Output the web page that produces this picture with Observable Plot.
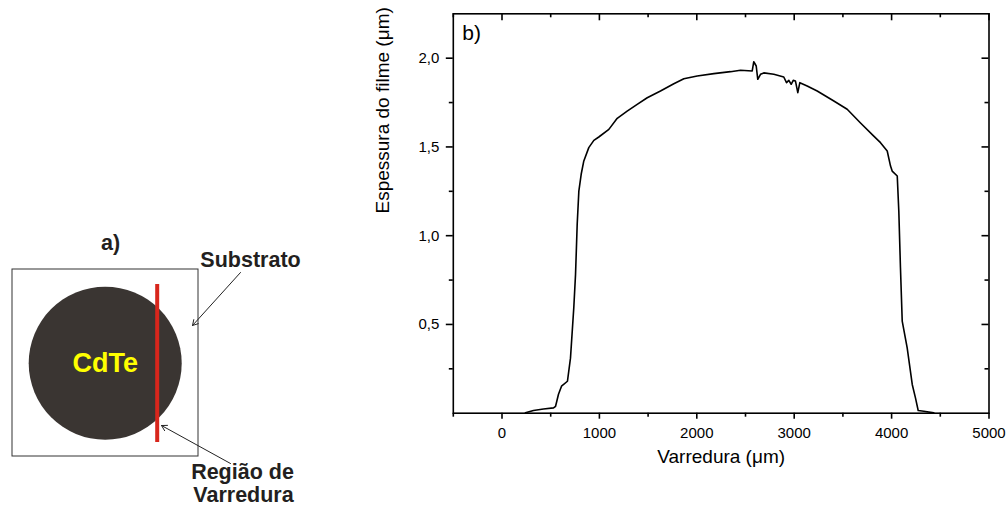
<!DOCTYPE html>
<html><head><meta charset="utf-8">
<script src="https://cdn.jsdelivr.net/npm/d3@7"></script>
<script src="https://cdn.jsdelivr.net/npm/@observablehq/plot@0.6"></script>
<style>
body{margin:0;background:#fff;}
#wrap{position:relative;width:1007px;height:507px;overflow:hidden;background:#fff;}
#wrap svg{position:absolute;top:0;}
</style></head><body><div id="wrap"></div>
<script>
// ---------- Panel b: thickness profile ----------
const scanX = [241, 323, 426, 529, 550, 580, 611, 672, 703, 737, 755, 772, 789, 813, 840, 891, 943, 994,
  1097, 1183, 1285, 1388, 1491, 1627, 1764, 1867, 2004, 2175, 2346, 2449, 2569, 2585, 2610, 2626, 2654, 2688,
  2791, 2893, 2921, 2945, 2969, 2990, 3013, 3037, 3058, 3133, 3236, 3407, 3544, 3681, 3817, 3886, 3955, 3989,
  4006, 4058, 4074, 4091, 4109, 4160, 4212, 4245, 4273, 4331, 4433];
const thickness = [0.002, 0.015, 0.024, 0.030, 0.039, 0.107, 0.152, 0.180, 0.310, 0.594, 0.782, 1.064, 1.251, 1.346, 1.421, 1.496, 1.537, 1.556,
  1.599, 1.661, 1.702, 1.740, 1.777, 1.815, 1.856, 1.884, 1.900, 1.913, 1.924, 1.932, 1.928, 1.980, 1.956, 1.881, 1.909, 1.917,
  1.909, 1.894, 1.862, 1.875, 1.853, 1.875, 1.871, 1.806, 1.862, 1.843, 1.815, 1.759, 1.712, 1.635, 1.561, 1.524, 1.477, 1.392,
  1.364, 1.336, 1.139, 0.819, 0.519, 0.368, 0.162, 0.086, 0.015, 0.011, 0.002];
const xMajorTicks = [0, 1000, 2000, 3000, 4000, 5000];
const xMinorTicks = [-500, 500, 1500, 2500, 3500, 4500];
const yMajorTicks = [0.5, 1.0, 1.5, 2.0];
const yMinorTicks = [0.25, 0.75, 1.25, 1.75];
const xTitle = "Varredura (\u03bcm)";
const yTitle = "Espessura do filme (\u03bcm)";
const panelB = "b)";

// ---------- Panel a: schematic ----------
const substrate = [{x1: 12, x2: 198, y1: 269, y2: 456}];
const film = [{x: 104.7, y: 362.7, label: "CdTe"}];
const scanLine = [{x: 156.7, y1: 284, y2: 442}];
const captions = [
  {x: 110, y: 243, text: "a)"},
  {x: 250, y: 260, text: "Substrato"},
  {x: 242, y: 472, text: "Regi\u00e3o de"},
  {x: 243, y: 495, text: "Varredura"}
];
const pointers = [
  {x1: 240, y1: 272, x2: 192, y2: 325},
  {x1: 230, y1: 463, x2: 161, y2: 425}
];

const font = "'Liberation Sans', Arial, Helvetica, sans-serif";
const comma = d => d.toFixed(1).replace(".", ",");

const profile = scanX.map((x, i) => ({x, y: thickness[i]}));

const chartA = Plot.plot({
  width: 340, height: 507, margin: 0,
  x: {domain: [0, 340], range: [0, 340], axis: null},
  y: {domain: [0, 507], range: [0, 507], axis: null},
  style: {fontFamily: font, background: "transparent", overflow: "visible"},
  marks: [
    Plot.rect(substrate, {x1: "x1", x2: "x2", y1: "y1", y2: "y2", fill: "#fff", stroke: "#333", strokeWidth: 1}),
    Plot.dot(film, {x: "x", y: "y", r: 76.5, fill: "#3a3532", stroke: null}),
    Plot.text(film, {x: "x", y: "y", text: "label", fill: "#ffff00", fontSize: 27, fontWeight: "bold"}),
    Plot.ruleX(scanLine, {x: "x", y1: "y1", y2: "y2", stroke: "#d8261c", strokeWidth: 4}),
    Plot.arrow(pointers, {x1: "x1", y1: "y1", x2: "x2", y2: "y2", stroke: "#222", strokeWidth: 1, headLength: 9, bend: 0}),
    Plot.text(captions, {x: "x", y: "y", text: "text", fill: "#231f20", fontSize: 21.5, fontWeight: "bold"})
  ]
});
chartA.style.left = "0px";

const W = 667, H = 507, mL = 112.8, mR = 18.5, mT = 13.3, mB = 94.3;
const innerW = W - mL - mR, innerH = H - mT - mB;
const tickStyle = {stroke: "#000", strokeWidth: 1.6};

const chartB = Plot.plot({
  width: W, height: H,
  marginLeft: mL, marginRight: mR, marginTop: mT, marginBottom: mB,
  x: {domain: [-500, 5000]},
  y: {domain: [0, 2.25]},
  style: {fontFamily: font, fontSize: "15px", color: "#000", background: "transparent", overflow: "visible"},
  marks: [
    Plot.line(profile, {x: "x", y: "y", stroke: "#000", strokeWidth: 1.6}),
    // tick labels
    Plot.axisX({anchor: "bottom", ticks: xMajorTicks, tickSize: 0, tickPadding: 14, tickFormat: d => String(d), label: null, fontSize: 15}),
    Plot.axisY({anchor: "left", ticks: yMajorTicks, tickSize: 0, tickPadding: 14, tickFormat: comma, label: null, fontSize: 15}),
    // bottom ticks (outward)
    Plot.tickX(xMajorTicks, {x: d => d, insetTop: innerH - 6, dy: 6, ...tickStyle}),
    Plot.tickX(xMinorTicks, {x: d => d, insetTop: innerH - 4, dy: 4, ...tickStyle}),
    // top ticks (inward)
    Plot.tickX(xMajorTicks, {x: d => d, insetBottom: innerH - 7, ...tickStyle}),
    Plot.tickX(xMinorTicks, {x: d => d, insetBottom: innerH - 4, ...tickStyle}),
    // left ticks (outward)
    Plot.tickY(yMajorTicks, {y: d => d, insetRight: innerW - 7, dx: -7, ...tickStyle}),
    Plot.tickY(yMinorTicks, {y: d => d, insetRight: innerW - 4, dx: -4, ...tickStyle}),
    // right ticks (inward)
    Plot.tickY(yMajorTicks, {y: d => d, insetLeft: innerW - 7, ...tickStyle}),
    Plot.tickY(yMinorTicks, {y: d => d, insetLeft: innerW - 4, ...tickStyle}),
    Plot.frame({stroke: "#000", strokeWidth: 1.6}),
    Plot.text([xTitle], {frameAnchor: "bottom", dy: 50, text: d => d, fontSize: 19, fill: "#000"}),
    Plot.text([yTitle], {frameAnchor: "left", dx: -70, rotate: -90, text: d => d, fontSize: 19, fill: "#000"}),
    Plot.text([panelB], {frameAnchor: "top-left", dx: 9, dy: 11.7, textAnchor: "start", lineAnchor: "top", text: d => d, fontSize: 21, fill: "#000"})
  ]
});
chartB.style.left = "340px";

const wrap = document.getElementById("wrap");
wrap.appendChild(chartA);
wrap.appendChild(chartB);
</script>
</body></html>
